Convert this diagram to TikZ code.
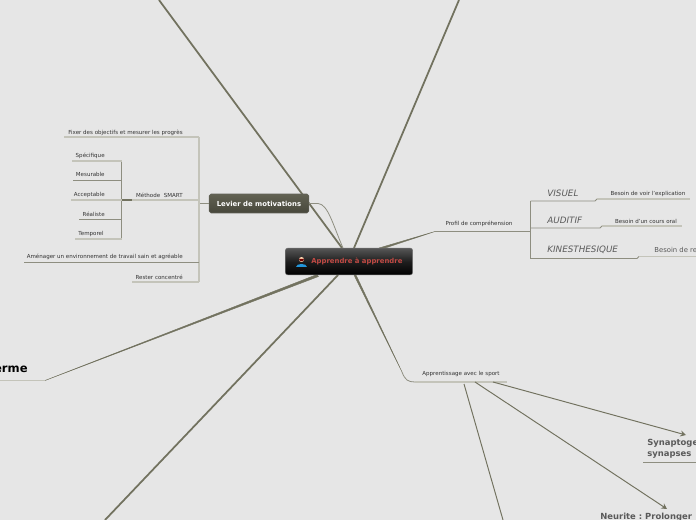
\documentclass[tikz,border=0pt]{standalone}
\usepackage{fontspec}
\setmainfont{DejaVu Sans}
\frenchspacing
\definecolor{paper}{HTML}{E6E6E6}
\definecolor{trunk}{HTML}{72725F}
\definecolor{twig}{HTML}{8E8E80}
\definecolor{pale}{HTML}{C4C4BA}
\definecolor{inkgrey}{HTML}{5A5A5A}
\definecolor{levtop}{HTML}{626253}
\definecolor{levlow}{HTML}{47473B}
\definecolor{titlered}{HTML}{C24A44}
\tikzset{
  trunkline/.style={draw=trunk, line width=1pt},
  taperline/.style={fill=trunk, draw=trunk, line width=.25pt, line join=round},
  arrowline/.style={draw=trunk, line width=.55pt, -{Stealth[length=3.2pt,width=3.4pt]}},
  twigline/.style={draw=twig, line width=.45pt},
  paleline/.style={draw=pale, line width=.7pt},
  leaf/.style={font=\fontsize{3.15}{4}\selectfont, text=black!80, inner sep=0pt, yshift=-.5pt},
  ital/.style={font=\fontsize{5}{6}\selectfont\itshape, text=inkgrey, inner sep=0pt, anchor=west},
  big/.style={font=\fontsize{4.8}{6.2}\selectfont\bfseries, text=inkgrey, inner sep=0pt, anchor=west},
}
\usetikzlibrary{arrows.meta}
\begin{document}
\begin{tikzpicture}[x=0.02cm, y=-0.02cm]
  \useasboundingbox (0,0) rectangle (696,520);
  \clip (0,0) rectangle (696,520);
  \fill[paper] (0,0) rectangle (696,520);

  \coordinate (topleft) at (159,0);
  \coordinate (topright) at (459,0);
  \coordinate (lowleft) at (105,520);
  \coordinate (longkink) at (45,380.5);
  \coordinate (longend) at (0,380.5);
  \coordinate (ct1) at (342,248);
  \coordinate (ct2) at (354,248);
  \coordinate (ct3) at (338,275);
  \coordinate (ct4a) at (317,274.5);
  \coordinate (ct4b) at (318.5,276.5);
  \coordinate (ct5) at (343,248);
  \coordinate (ct6a) at (379,248);
  \coordinate (ct6b) at (382,249);
  \coordinate (ct7a) at (354,275);
  \coordinate (ct7b) at (356,275);

  \draw[trunkline] (topleft) -- (ct1);
  \draw[trunkline] (topright) -- (ct2);
  \draw[trunkline] (lowleft) -- (ct3);
  \path[taperline] (longkink) -- (ct4a) -- (ct4b) -- cycle;
  \draw[paleline] (longend) -- (longkink);

  \node[inner sep=0pt, anchor=east, font=\fontsize{6.6}{8}\selectfont\bfseries] (longterm) at (28,369) {erme};

  % levier
  \node[draw=twig!70!black, line width=.3pt, rounded corners=1pt, top color=levtop, bottom color=levlow,
        minimum width=56.7pt, minimum height=10.8pt, inner sep=0pt, text=white,
        font=\fontsize{3.92}{4.5}\selectfont\bfseries] (levier) at (259,203.5) {Levier de motivations};
  \draw[twigline] (levier.east) -- (318,203.5) .. controls (328,204) and (333,225) .. (ct5);

  \coordinate (spine) at (199,203.5);
  \coordinate (spinetop) at (199,137);
  \coordinate (spinelow) at (199,282);
  \draw[twigline] (spine) -- (levier.west);
  \draw[paleline] (spinetop) -- (spinelow);

  \node[leaf, anchor=east] (fixer) at (183,132) {Fixer des objectifs et mesurer les progrès};
  \node[leaf, anchor=east] (methode) at (183,194) {Méthode~~SMART};
  \node[leaf, anchor=east] (amenager) at (183,256) {Aménager un environnement de travail sain et agréable};
  \node[leaf, anchor=east] (rester) at (183,276) {Rester concentré};

  \coordinate (fixerend) at (64,137);
  \coordinate (methodeend) at (132,200);
  \coordinate (amenagerend) at (24,262);
  \coordinate (resterend) at (132,282);
  \coordinate (fixerjoin) at (199,137);
  \coordinate (methodejoin) at (199,200);
  \coordinate (amenagerjoin) at (199,262);
  \draw[paleline] (fixerend) -- (fixerjoin);
  \draw[paleline] (methodeend) -- (methodejoin);
  \draw[twigline] (amenagerend) -- (amenagerjoin);
  \draw[paleline] (resterend) -- (spinelow);

  \coordinate (subtop) at (121.5,161);
  \coordinate (sublow) at (121.5,239);
  \coordinate (subb) at (121.5,180);
  \coordinate (subc) at (121.5,200);
  \coordinate (subd) at (121.5,219);
  \draw[twigline] (subtop) -- (sublow);
  \draw[draw=trunk, line width=.8pt] (subc) -- (methodeend);

  \node[leaf, anchor=east] (specifique) at (105,155) {Spécifique};
  \node[leaf, anchor=east] (mesurable) at (105,174) {Mesurable};
  \node[leaf, anchor=east] (acceptable) at (105,194) {Acceptable};
  \node[leaf, anchor=east] (realiste) at (105,213) {Réaliste};
  \node[leaf, anchor=east] (temporel) at (104,233) {Temporel};

  \coordinate (specend) at (72,161);
  \coordinate (mesend) at (73,180);
  \coordinate (accend) at (71,200);
  \coordinate (reaend) at (79,219);
  \coordinate (temend) at (75,239);
  \draw[paleline] (specend) -- (subtop);
  \draw[twigline] (mesend) -- (subb);
  \draw[paleline] (accend) -- (subc);
  \draw[twigline] (reaend) -- (subd);
  \draw[paleline] (temend) -- (sublow);

  % profil
  \node[leaf] (profil) at (479,223) {Profil de compréhension};
  \coordinate (profilkink) at (435,231.5);
  \coordinate (profilend) at (530.5,231.5);
  \path[taperline] (profilkink) -- (ct6a) -- (ct6b) -- cycle;
  \draw[twigline, line width=.6pt] (profilkink) -- (profilend);

  \coordinate (vistop) at (530.5,201);
  \coordinate (kinlow) at (530.5,258.5);
  \coordinate (audjoin) at (530.5,228);
  \draw[twigline] (vistop) -- (kinlow);

  \node[ital] (visuel) at (547,193) {VISUEL};
  \node[ital] (auditif) at (547,220) {AUDITIF};
  \node[ital] (kines) at (547,250) {KINESTHESIQUE};
  \node[leaf] (voir) at (648,193.5) {Besoin de voir l'explication};
  \node[leaf] (cours) at (646,220.5) {Besoin d'un cours oral};
  \node[leaf, font=\fontsize{3.9}{5}\selectfont, text=inkgrey, anchor=west] (besoin) at (654,249) {Besoin de re};

  \coordinate (visa) at (595,201);
  \coordinate (visb) at (597,199);
  \coordinate (visc) at (690,199);
  \coordinate (auda) at (600,228);
  \coordinate (audb) at (602,226);
  \coordinate (audc) at (682,226);
  \coordinate (kina) at (637,258.5);
  \coordinate (kinb) at (639,256.5);
  \coordinate (kinc) at (696,256.5);
  \draw[twigline] (vistop) -- (visa) -- (visb);
  \draw[paleline] (visb) -- (visc);
  \draw[twigline] (audjoin) -- (auda) -- (audb);
  \draw[paleline] (audb) -- (audc);
  \draw[twigline] (kinlow) -- (kina) -- (kinb);
  \draw[paleline] (kinb) -- (kinc);

  % sport
  \node[leaf] (sport) at (461,373) {Apprentissage avec le sport};
  \coordinate (sportkink) at (415,382);
  \coordinate (sportend) at (507,382);
  \coordinate (sportbend) at (402,372);
  \path[taperline] (sportbend) -- (ct7a) -- (ct7b) -- cycle;
  \draw[twigline] (sportbend) .. controls (405,380) and (408,382) .. (sportkink);
  \draw[paleline] (sportkink) -- (sportend);

  \node[big, align=left] (synapto) at (647,449) {Synaptoge\\synapses};
  \node[big] (neurite) at (600,517) {Neurite : Prolonger};
  \coordinate (synaptotip) at (686,435);
  \coordinate (neuritetip) at (667,509);
  \coordinate (sporta) at (493,382);
  \coordinate (sportb) at (475,382);
  \coordinate (sportc) at (464,384);
  \coordinate (sportd) at (503,520);
  \coordinate (synuna) at (643,462.5);
  \coordinate (synunb) at (696,462.5);
  \draw[arrowline] (sporta) -- (synaptotip);
  \draw[arrowline] (sportb) -- (neuritetip);
  \draw[draw=trunk, line width=.55pt] (sportc) -- (sportd);
  \draw[twigline] (synuna) -- (synunb);

  % centre
  \node[draw=black!55, line width=.3pt, rounded corners=1.5pt, top color=black!66, bottom color=black, middle color=black!88,
        minimum width=72.5pt, minimum height=15.3pt, inner sep=0pt] (centre) at (349,261.5) {};
  \node[inner sep=0pt, anchor=west, text=titlered, font=\fontsize{3.92}{4.5}\selectfont\bfseries] (titre) at (311,261.5) {Apprendre à apprendre};
  \fill[cyan!75!blue!90!white] (296,267) .. controls (296,262.5) and (307,262.5) .. (307,267) -- cycle;
  \fill[orange!30!white] (301.5,259.5) circle (2.5);
  \fill[red!45!black] (299,258.8) arc (180:0:2.5) -- cycle;
\end{tikzpicture}
\end{document}
